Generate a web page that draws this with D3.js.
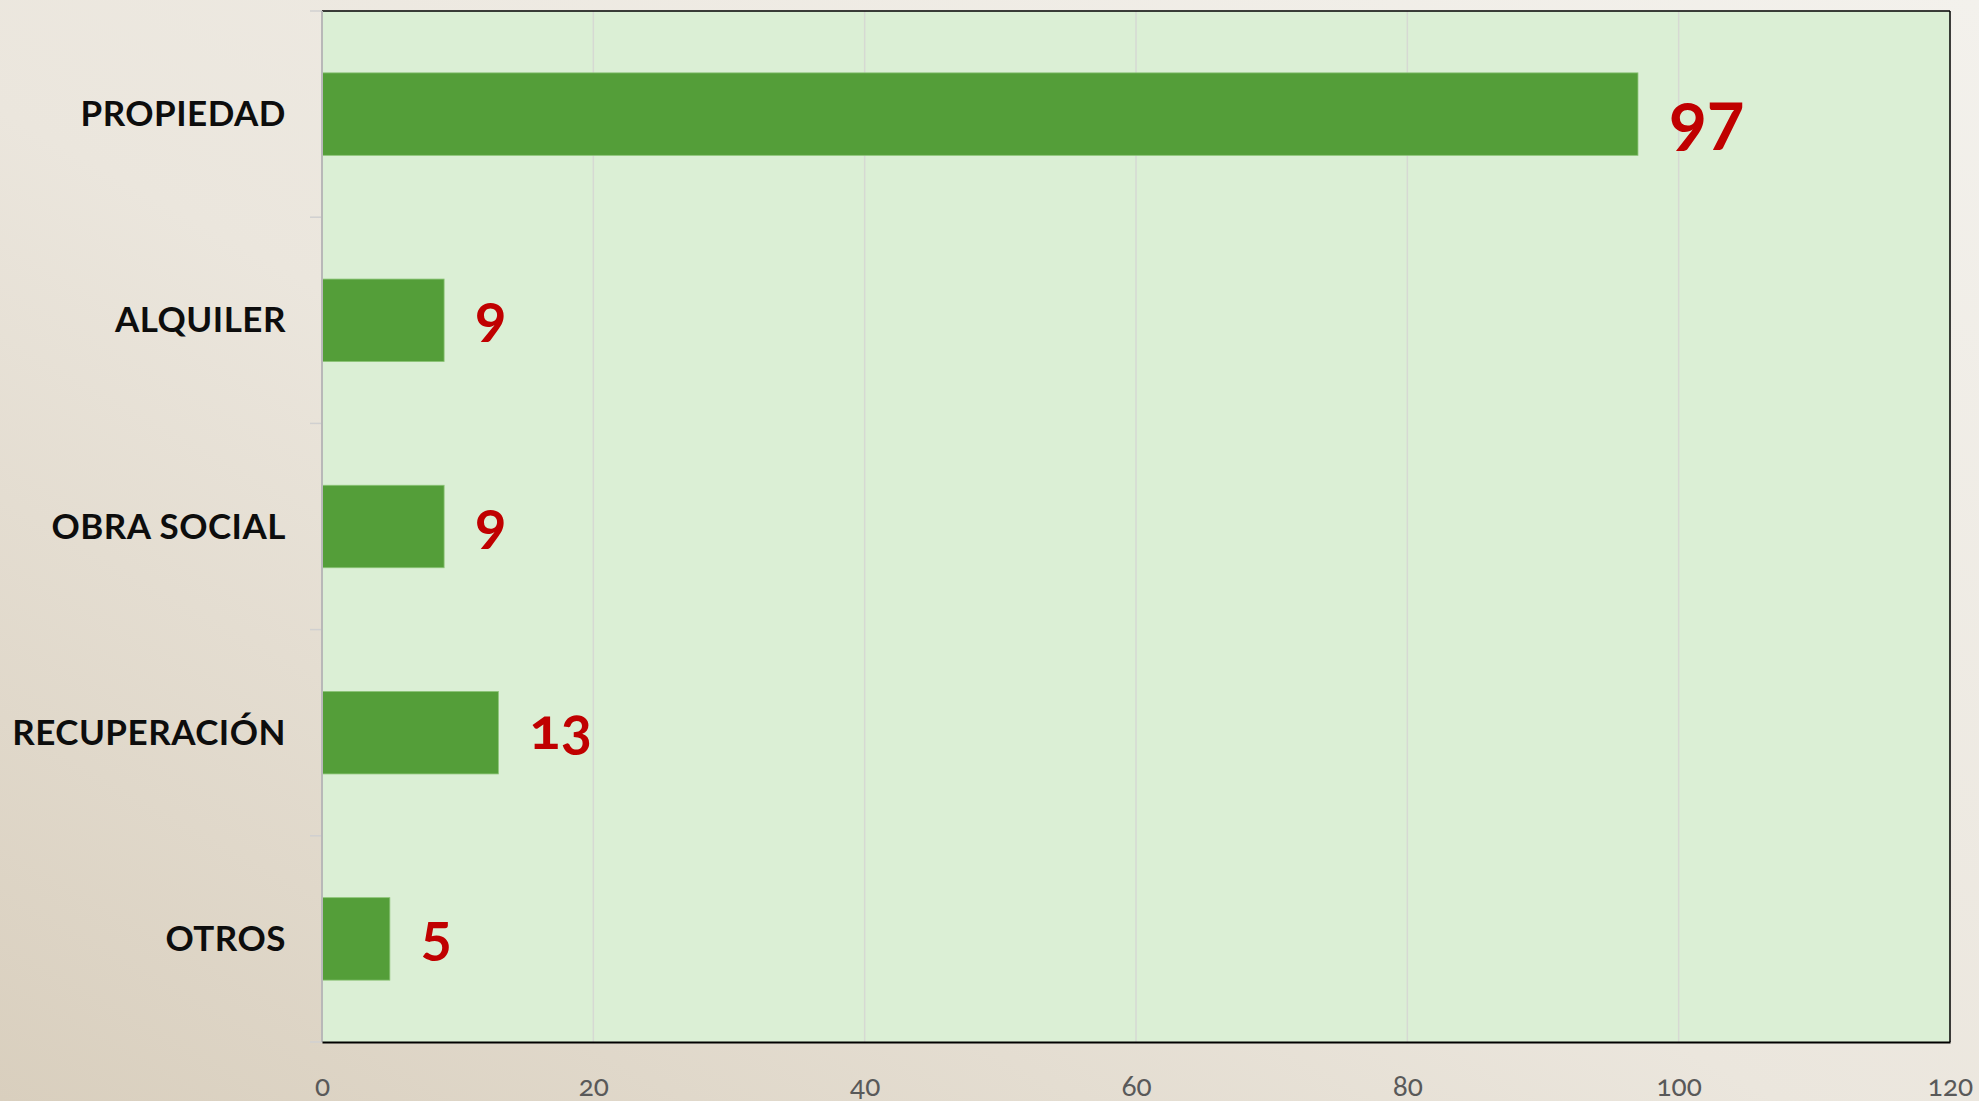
<!DOCTYPE html>
<html>
<head>
<meta charset="utf-8">
<script src="https://d3js.org/d3.v7.min.js"></script>
<style>
  html, body { margin: 0; padding: 0; }
  body { width: 1979px; height: 1101px; overflow: hidden; }
</style>
</head>
<body>
<div id="chart"></div>
<script>
// data
var categories = ["PROPIEDAD", "ALQUILER", "OBRA SOCIAL", "RECUPERACIÓN", "OTROS"];
var values = [97, 9, 9, 13, 5];
var xTicks = [0, 20, 40, 60, 80, 100, 120];

var width = 1979, height = 1101;
var margin = {top: 11, right: 29, bottom: 59, left: 322};
var innerW = width - margin.left - margin.right,
    innerH = height - margin.top - margin.bottom;

var svg = d3.select("#chart").append("svg")
    .attr("width", width)
    .attr("height", height);

// page background
var defs = svg.append("defs");
var grad = defs.append("linearGradient")
    .attr("id", "bg").attr("x1", "100%").attr("y1", "0%").attr("x2", "0%").attr("y2", "100%");
grad.append("stop").attr("offset", "0%").attr("stop-color", "#f3f1ec");
grad.append("stop").attr("offset", "55%").attr("stop-color", "#ebe6dd");
grad.append("stop").attr("offset", "100%").attr("stop-color", "#d9cfbe");
svg.append("rect").attr("width", width).attr("height", height).attr("fill", "url(#bg)");

var g = svg.append("g").attr("transform", "translate(" + margin.left + "," + margin.top + ")");

var x = d3.scaleLinear().domain([0, 120]).range([0, innerW]);
var y = d3.scaleBand().domain(categories).range([0, innerH]).paddingInner(0.6).paddingOuter(0.3);

// plot area
g.append("rect").attr("width", innerW).attr("height", innerH).attr("fill", "#dbefd5");

// gridlines
g.selectAll(".grid").data(xTicks.slice(1, -1)).enter().append("line")
    .attr("x1", d => x(d)).attr("x2", d => x(d))
    .attr("y1", 0).attr("y2", innerH)
    .attr("stroke", "#d6d9d3").attr("stroke-width", 1.5);

// bars
g.selectAll(".bar").data(values).enter().append("rect")
    .attr("x", 0)
    .attr("y", (d, i) => y(categories[i]))
    .attr("width", d => x(d))
    .attr("height", y.bandwidth())
    .attr("fill", "#549e39")
    .attr("stroke", "#8cc477").attr("stroke-width", 0.8);

// value labels
var maxV = d3.max(values);
g.selectAll(".val").data(values).enter().append("text")
    .attr("x", d => x(d) + 31)
    .attr("y", (d, i) => y(categories[i]) + y.bandwidth() / 2 + (d === maxV ? 29 : 16))
    .attr("font-family", "Lato, 'Open Sans', sans-serif")
    .attr("font-weight", "bold")
    .attr("font-size", d => d === maxV ? 70 : 58)
    .style("font-variant-numeric", "oldstyle-nums")
    .attr("fill", "#c00000")
    .text(d => d);

// frame: top/right/bottom black, left gray
g.append("line").attr("x1", 0).attr("x2", innerW).attr("y1", 0).attr("y2", 0)
    .attr("stroke", "#000").attr("stroke-width", 1.5);
g.append("line").attr("x1", innerW).attr("x2", innerW).attr("y1", 0).attr("y2", innerH)
    .attr("stroke", "#000").attr("stroke-width", 1.5);

// y axis
var yBounds = categories.map(c => y(c) - y.step() * y.paddingInner() / 2);
yBounds.push(innerH);
g.selectAll(".ytick").data(yBounds).enter().append("line")
    .attr("x1", -12).attr("x2", 0)
    .attr("y1", d => d).attr("y2", d => d)
    .attr("stroke", "#d0d0d0").attr("stroke-width", 1.5);
g.append("line").attr("x1", 0).attr("x2", 0).attr("y1", 0).attr("y2", innerH)
    .attr("stroke", "#b8b8b8").attr("stroke-width", 2);

g.selectAll(".ylab").data(categories).enter().append("text")
    .attr("x", -36)
    .attr("y", d => y(d) + y.bandwidth() / 2 + 12)
    .attr("text-anchor", "end")
    .attr("font-family", "Lato, 'Open Sans', sans-serif")
    .attr("font-weight", "bold")
    .attr("font-size", 35)
    .attr("letter-spacing", 0.5)
    .attr("fill", "#0d0d0d")
    .text(d => d);

// x axis
var xAxis = g.append("g").attr("transform", "translate(0," + innerH + ")")
    .call(d3.axisBottom(x).tickValues(xTicks).tickSize(0).tickPadding(34));
xAxis.select(".domain").attr("stroke", "#000").attr("stroke-width", 2);
xAxis.selectAll("text")
    .attr("font-family", "Lato, 'Open Sans', sans-serif")
    .attr("font-size", 28)
    .style("font-variant-numeric", "oldstyle-nums")
    .attr("fill", "#595959");
</script>
</body>
</html>
